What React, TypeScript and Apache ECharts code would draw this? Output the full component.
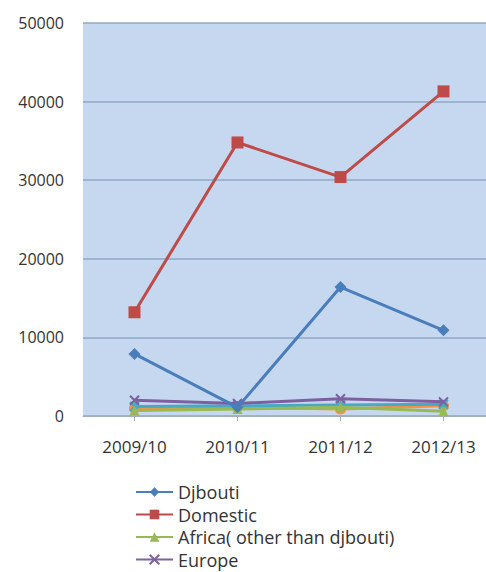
import React, { useEffect, useRef } from "react";
import * as echarts from "echarts";

const categories = ["2009/10", "2010/11", "2011/12", "2012/13"];
const djibouti = [7900, 1100, 16400, 10900];
const domestic = [13200, 34800, 30400, 41300];
const africa = [700, 900, 1100, 600];
const europe = [2000, 1600, 2200, 1800];
const asia = [1200, 1300, 1400, 1500];
const other = [1000, 1100, 900, 1300];
const yTicks = [0, 10000, 20000, 30000, 40000, 50000];

const seriesDefs = [
  { name: "Djbouti", data: djibouti, color: "#4A7EBB", symbol: "diamond", size: 12 },
  { name: "Domestic", data: domestic, color: "#BE4B48", symbol: "rect", size: 12 },
  { name: "Africa( other than djbouti)", data: africa, color: "#98B954", symbol: "triangle", size: 10 },
  { name: "Europe", data: europe, color: "#7D60A0", symbol: "path://M0,0 L10,10 M10,0 L0,10", size: 9 },
  { name: "Asia", data: asia, color: "#46AAC5", symbol: "path://M0,0 L10,10 M10,0 L0,10 M5,0 L5,10", size: 9 },
  { name: "Other", data: other, color: "#F69240", symbol: "circle", size: 11 },
];

export default function App() {
  const ref = useRef<HTMLDivElement>(null);
  useEffect(() => {
    if (!ref.current) return;
    const chart = echarts.init(ref.current, undefined, { renderer: "svg" });
    chart.setOption({
      animation: false,
      backgroundColor: "#ffffff",
      textStyle: { fontFamily: "Open Sans" },
      grid: {
        left: 83,
        top: 23,
        width: 412,
        height: 393,
        show: true,
        backgroundColor: "#C6D8EF",
        borderWidth: 0,
      },
      xAxis: {
        type: "category",
        data: categories,
        boundaryGap: true,
        axisLine: { show: true, lineStyle: { color: "#A0AEC0", width: 1 } },
        axisTick: { show: true, alignWithLabel: true, length: 5, lineStyle: { color: "#A0AEC0" } },
        axisLabel: { color: "#333", fontSize: 17, margin: 22, fontFamily: "Open Sans" },
      },
      yAxis: {
        type: "value",
        min: 0,
        max: 50000,
        interval: 10000,
        axisLine: { show: false },
        axisTick: { show: false },
        splitLine: { show: true, lineStyle: { color: "#8FA8C6", width: 1.5 } },
        axisLabel: {
          color: "#333",
          fontSize: 16,
          margin: 19,
          fontFamily: "Open Sans",
          formatter: (v: number) => (yTicks.includes(v) ? String(v) : ""),
        },
      },
      legend: seriesDefs.slice(0, 4).map((s, i) => ({
        show: true,
        orient: "vertical",
        left: 135,
        top: 483 + i * 22.5,
        padding: 0,
        itemWidth: 37,
        itemHeight: 12,
        itemGap: 0,
        data: [s.name],
        textStyle: { fontSize: 18, color: "#333", fontFamily: "Open Sans" },
      })),
      series: seriesDefs.map((s) => ({
        name: s.name,
        type: "line",
        data: s.data,
        symbol: s.symbol,
        symbolSize: s.size,
        showAllSymbol: true,
        lineStyle: { color: s.color, width: 3 },
        itemStyle: {
          color: s.color,
          borderColor: s.color,
          borderWidth: s.symbol.startsWith("path") ? 2 : 0,
        },
        z: 10 - seriesDefs.indexOf(s),
      })),
    });
    return () => chart.dispose();
  }, []);
  return (
    <div style={{ position: "absolute", left: 0, top: 0, width: 486, height: 572, overflow: "hidden" }}>
      <div ref={ref} style={{ width: 500, height: 572 }} />
    </div>
  );
}
